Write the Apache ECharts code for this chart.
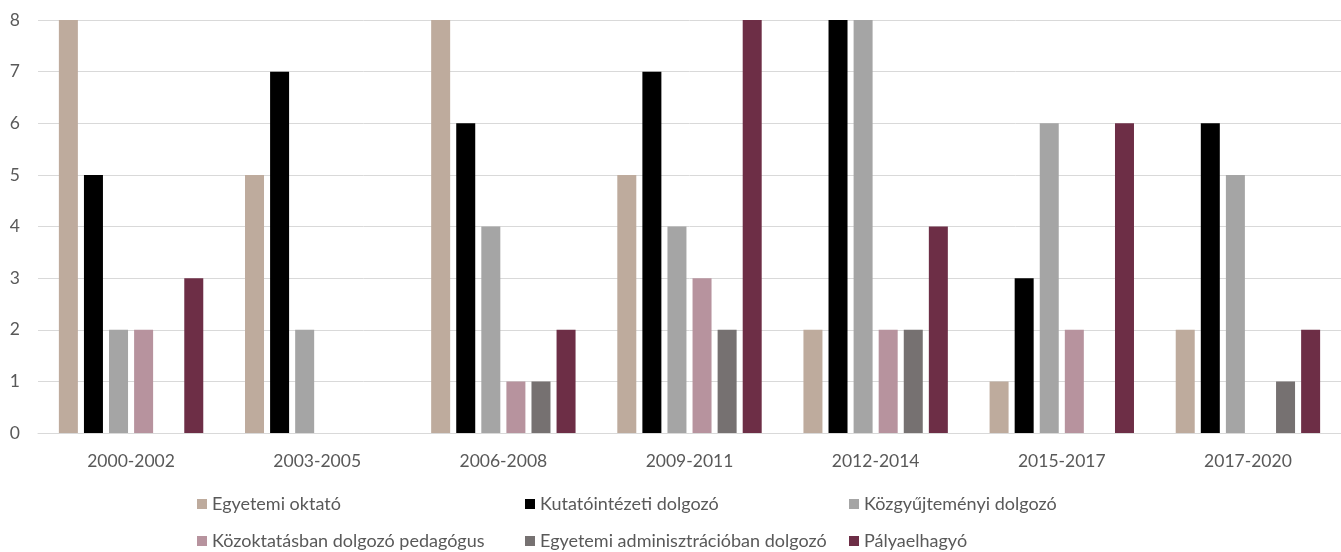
<!DOCTYPE html>
<html>
<head>
<meta charset="utf-8">
<script src="https://cdn.jsdelivr.net/npm/echarts@6/dist/echarts.min.js"></script>
<style>
html, body { margin: 0; padding: 0; background: #fff; }
#chart { width: 1341px; height: 552px; }
</style>
</head>
<body>
<div id="chart"></div>
<script>
// időszakok
var idoszakok = ['2000-2002', '2003-2005', '2006-2008', '2009-2011', '2012-2014', '2015-2017', '2017-2020'];

var egyetemiOktato = [8, 5, 8, 5, 2, 1, 2];
var kutatoIntezeti = [5, 7, 6, 7, 8, 3, 6];
var kozgyujtemenyi = [2, 2, 4, 4, 8, 6, 5];
var kozoktatas = [2, 0, 1, 3, 2, 2, 0];
var egyetemiAdmin = [0, 0, 1, 2, 2, 0, 1];
var palyaelhagyo = [3, 0, 2, 8, 4, 6, 2];

var nevek = ['Egyetemi oktató', 'Kutatóintézeti dolgozó', 'Közgyűjteményi dolgozó',
	'Közoktatásban dolgozó pedagógus', 'Egyetemi adminisztrációban dolgozó', 'Pályaelhagyó'];
var adatok = [egyetemiOktato, kutatoIntezeti, kozgyujtemenyi, kozoktatas, egyetemiAdmin, palyaelhagyo];
var szinek = ['#BEAB9D', '#000000', '#A5A5A5', '#B7939E', '#767171', '#6D2E46'];

var FONT = 'Lato, "Open Sans", sans-serif';

var series = [];
for (var i = 0; i < nevek.length; i++) {
	series.push({
		name: nevek[i],
		type: 'bar',
		data: adatok[i],
		barWidth: 19,
		barGap: '32%',
		itemStyle: { color: szinek[i] }
	});
}

// jelmagyarázat: két sor, három oszlop
var legendLeft = [197, 525, 849];
var legendTop = [495, 532];
var legends = [];
for (var j = 0; j < nevek.length; j++) {
	legends.push({
		data: [nevek[j]],
		left: legendLeft[j % 3],
		top: legendTop[Math.floor(j / 3)],
		itemWidth: 10,
		itemHeight: 10,
		icon: 'rect',
		selectedMode: false,
		padding: 0,
		textStyle: { color: '#595959', fontSize: 18, fontFamily: FONT }
	});
}

var myChart = echarts.init(document.getElementById('chart'));
myChart.setOption({
	animation: false,
	color: szinek,
	grid: { left: 38, right: 0, top: 20, bottom: 119, containLabel: false },
	legend: legends,
	xAxis: {
		type: 'category',
		data: idoszakok,
		axisLine: { lineStyle: { color: '#D9D9D9', width: 1 } },
		axisTick: { show: false },
		axisLabel: { color: '#595959', fontSize: 17.5, fontFamily: FONT, margin: 19 }
	},
	yAxis: {
		type: 'value',
		min: 0,
		max: 8,
		interval: 1,
		axisLine: { show: false },
		axisTick: { show: false },
		splitLine: { lineStyle: { color: '#D9D9D9', width: 1 } },
		axisLabel: { color: '#595959', fontSize: 17.5, fontFamily: FONT, margin: 18 }
	},
	series: series
});
</script>
</body>
</html>
